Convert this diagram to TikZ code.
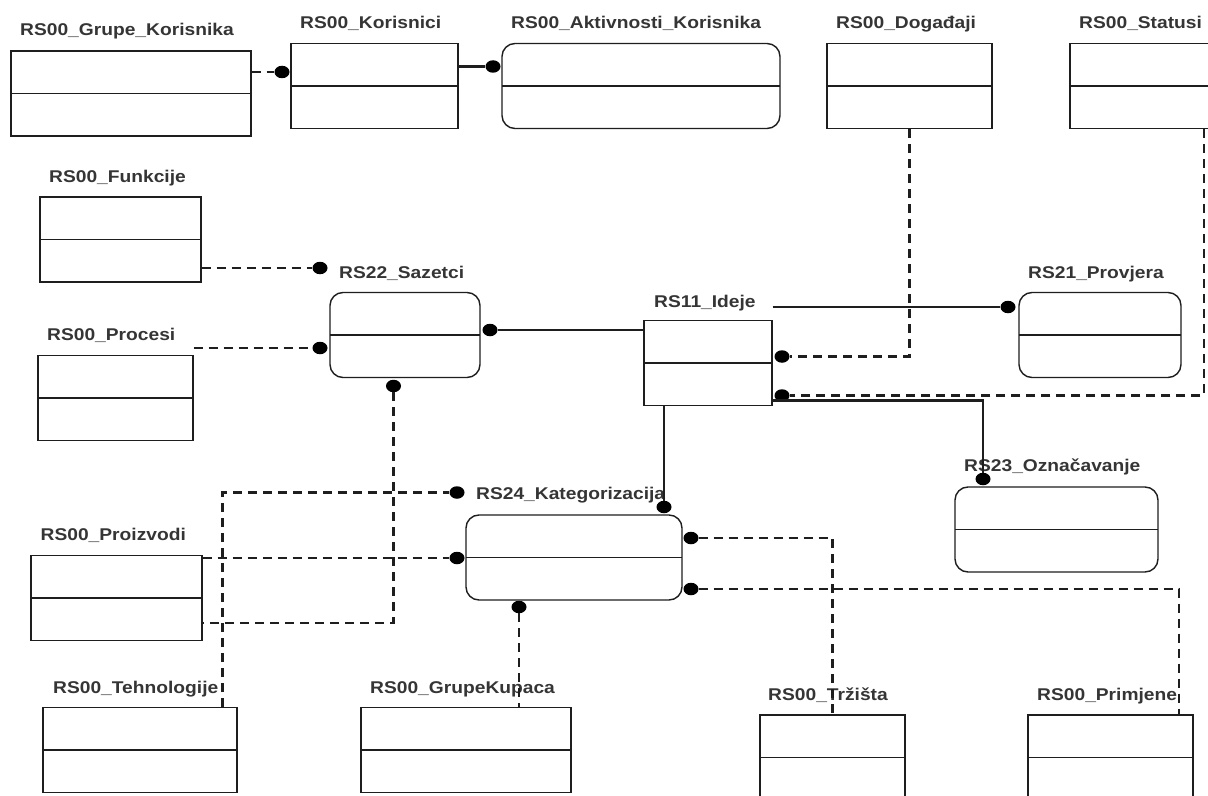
\documentclass[tikz,border=0pt]{standalone}
\usepackage{fontspec}
\newfontfamily\lblfont{Liberation Sans}[FakeStretch=1.13]
\definecolor{ink}{RGB}{30, 30, 30}
\usepackage{tikz}
\usetikzlibrary{shapes, positioning, calc}

\begin{document}
\begin{tikzpicture}[x=1bp, y=-1bp,
  lbl/.style={anchor=base west, inner sep=0pt, text=ink!90, font=\lblfont\bfseries\fontsize{17bp}{20bp}\selectfont},
  tbl/.style={draw=ink, line width=1.4bp, minimum width=#1, minimum height=85bp, inner sep=0pt,
    path picture={\draw[ink, line width=1.4bp] (path picture bounding box.west) -- (path picture bounding box.east);}},
  rtbl/.style={tbl=#1, rounded corners=13bp},
  dot/.style={ellipse, fill=black, inner sep=0pt, minimum width=15bp, minimum height=12.5bp},
  sl/.style={ink, line width=2.2bp},
  dl/.style={ink, line width=2.2bp, dash pattern=on 9bp off 6bp}]
  \clip (0,0) rectangle (1208,796);
  \fill[white] (0,0) rectangle (1208,796);

  \node[tbl=240bp] (gk) at (131,93.5) {};   \node[lbl] (lgk) at (20,36) {RS00\_Grupe\_Korisnika};
  \node[tbl=167bp] (kor) at (374.5,86) {};  \node[lbl] (lkor) at (300,29) {RS00\_Korisnici};
  \node[rtbl=278bp] (akt) at (641,86) {};   \node[lbl] (lakt) at (511,29) {RS00\_Aktivnosti\_Korisnika};
  \node[tbl=165bp] (dog) at (909.5,86) {};  \node[lbl] (ldog) at (836,29) {RS00\_Događaji};
  \node[tbl=268bp] (sta) at (1204,86) {};   \node[lbl] (lsta) at (1079,29) {RS00\_Statusi};
  \node[tbl=161bp] (fun) at (120.5,239.5) {}; \node[lbl] (lfun) at (49,182) {RS00\_Funkcije};
  \node[tbl=155bp] (pro) at (115.5,398) {};  \node[lbl] (lpro) at (47,340.5) {RS00\_Procesi};
  \node[rtbl=150bp] (saz) at (405,335) {};   \node[lbl] (lsaz) at (339,278) {RS22\_Sazetci};
  \node[tbl=128bp] (ide) at (708,363) {};    \node[lbl] (lide) at (654,307) {RS11\_Ideje};
  \node[rtbl=162bp] (prv) at (1100,335) {};  \node[lbl] (lprv) at (1028,278) {RS21\_Provjera};
  \node[rtbl=203bp] (ozn) at (1056.5,529.5) {}; \node[lbl] (lozn) at (964,471.5) {RS23\_Označavanje};
  \node[rtbl=216bp] (kat) at (574,557.5) {};  \node[lbl] (lkat) at (476,499) {RS24\_Kategorizacija};
  \node[tbl=171bp] (prz) at (116.5,598) {};  \node[lbl] (lprz) at (40.5,540.5) {RS00\_Proizvodi};
  \node[tbl=194bp] (teh) at (140,750) {};    \node[lbl] (lteh) at (53,693) {RS00\_Tehnologije};
  \node[tbl=210bp] (gku) at (466,750) {};    \node[lbl] (lgku) at (370,693) {RS00\_GrupeKupaca};
  \node[tbl=145bp] (trz) at (832.5,757.5) {}; \node[lbl] (ltrz) at (768,700) {RS00\_Tržišta};
  \node[tbl=165bp] (prm) at (1110.5,757.5) {}; \node[lbl] (lprm) at (1037,700) {RS00\_Primjene};

  \node[dot] (d1) at (282,72) {};   \node[dot] (d2) at (493,66.5) {};
  \node[dot] (d3) at (320,268) {};  \node[dot] (d4) at (320,348) {};
  \node[dot] (d5) at (490,330) {};  \node[dot] (d6) at (393.5,386) {};
  \node[dot] (d7) at (782,356.5) {}; \node[dot] (d8) at (782,395.5) {};
  \node[dot] (d9) at (1008,307) {}; \node[dot] (d10) at (983,479) {};
  \node[dot] (d11) at (664,507) {}; \node[dot] (d12) at (457,492.5) {};
  \node[dot] (d13) at (457,558) {}; \node[dot] (d14) at (691,538) {};
  \node[dot] (d15) at (691,589) {}; \node[dot] (d16) at (519,607) {};

  \coordinate (k1) at (393.5,623);
  \coordinate (k3) at (772,400.5);
  \coordinate (k4) at (222.5,707);
  \coordinate (k5) at (1179,715);

  \draw[dl] (gk.east |- d1) -- (d1);
  \draw[sl] (kor.east |- d2) -- (d2);
  \draw[dl] (fun.east |- d3) -- (d3);
  \draw[dl] (pro.east |- d4) -- (d4);
  \draw[sl] (d5) -- (ide.west |- d5);
  \draw[dl] (d6) -- (k1) -- (prz.east |- k1);
  \draw[sl] (ide.east |- d9) -- (d9);
  \draw[dl] (dog.south) |- (d7);
  \draw[dl] (sta.south) |- (d8);
  \draw[sl] (k3) -| (d10);
  \draw[sl] (ide.south -| d11) -- (d11);
  \draw[dl] (k4) |- (d12);
  \draw[dl] (prz.east |- d13) -- (d13);
  \draw[dl] (d16) -- (d16 |- gku.north);
  \draw[dl] (d14) -| (trz.north);
  \draw[dl] (d15) -| (k5);
\end{tikzpicture}
\end{document}
